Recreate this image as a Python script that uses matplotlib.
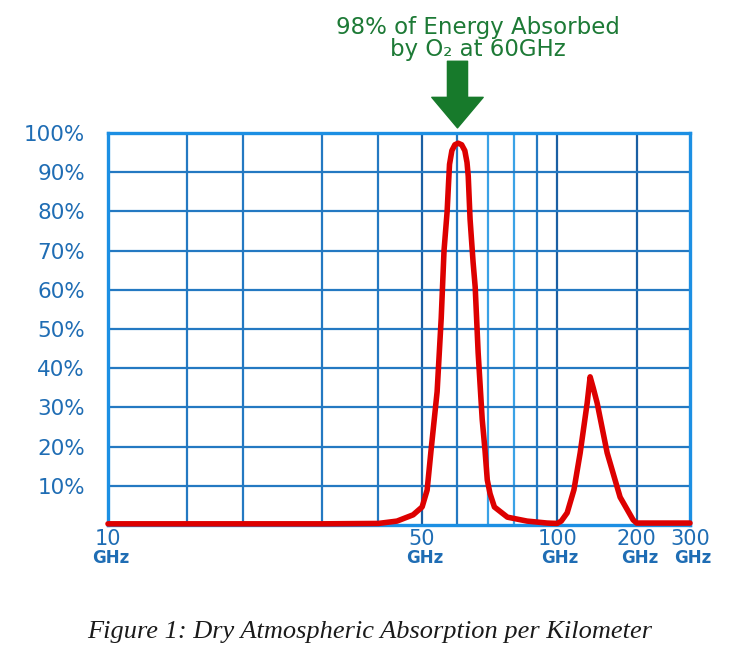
import numpy as np
import matplotlib
matplotlib.use("Agg")
import matplotlib.pyplot as plt
from matplotlib.transforms import offset_copy

# absorption curve (GHz, % absorbed per km)
freq = [10, 20, 30, 40, 44, 47.8, 50.05, 51.35, 52.4, 54.05, 55.2, 56.0,
        56.9, 57.3, 57.6, 58.3, 59.2, 60.2, 61.3, 62.3, 63.0, 63.4, 64.0,
        65.0, 65.7, 66.7, 68.1, 69.1, 69.9, 70.9, 72.5, 77.5, 85.7, 95, 100,
        104, 109.9, 117, 123.8, 131.8, 135.3, 139, 143.9, 156.8, 174.8,
        194.4, 200, 250, 300]
absorb = [0.3, 0.3, 0.3, 0.4, 1.0, 2.6, 4.6, 8.9, 19.1, 34, 52.8, 70,
          80, 87, 92, 95.5, 97, 97.4, 97, 95.5, 92.5, 89, 78,
          67, 60.7, 44, 27, 19, 11.5, 8, 4.6, 2, 1.0, 0.5, 0.4,
          1.0, 3.1, 9, 18.4, 31.1, 37.8, 35, 31.1, 18.4, 7.1,
          1.3, 0.5, 0.5, 0.5]

grid_freq = [15, 20, 30, 40, 50, 60, 70, 80, 90, 100, 200]
grid_pct = [10, 20, 30, 40, 50, 60, 70, 80, 90]
xtick_freq = [10, 50, 100, 200, 300]
xtick_lab = ["10", "50", "100", "200", "300"]
ytick_pct = [10, 20, 30, 40, 50, 60, 70, 80, 90, 100]
ytick_lab = ["10%", "20%", "30%", "40%", "50%", "60%", "70%", "80%", "90%", "100%"]

title1 = "98% of Energy Absorbed"
title2 = "by O\u2082 at 60GHz"
caption = "Figure 1: Dry Atmospheric Absorption per Kilometer"

# the drawn axis is log up to 100 GHz, then squeezed (fourth root) to 300
C = 0.296
R100 = 100 ** 0.25


def fwd(f):
    f = np.clip(f, 1e-3, None)
    return np.where(f <= 100, np.log10(f), 2 + C * (f ** 0.25 - R100))


def inv(u):
    u = np.asarray(u, dtype=float)
    hi = np.clip((u - 2) / C + R100, 0, None) ** 4
    return np.where(u <= 2, 10.0 ** np.minimum(u, 2), hi)


blue_lab = "#1f6db4"
frame_col = "#1c8fe3"
dark_grid = "#1a5fa3"
mid_grid = "#2479c2"
light_grid = "#3aa2e6"
green = "#1d7a36"

plt.rcParams["font.family"] = ["DejaVu Sans"]

fig = plt.figure(figsize=(7.5, 6.66), dpi=100)
ax = fig.add_axes([0.144, 0.2117, 0.776, 0.5886])
ax.set_xscale("function", functions=(fwd, inv))
ax.set_xlim(10, 300)
ax.set_ylim(0, 100)

for f in grid_freq:
    if f in (50, 100, 200):
        c = dark_grid
    elif f in (70, 80):
        c = light_grid
    else:
        c = mid_grid
    ax.axvline(f, color=c, lw=1.6, zorder=1)
for p in grid_pct:
    ax.axhline(p, color=mid_grid, lw=1.6, zorder=1)

for s in ax.spines.values():
    s.set_color(frame_col)
    s.set_linewidth(2.4)

ax.plot(freq, absorb, color="#dd0000", lw=4.0, solid_joinstyle="round",
        solid_capstyle="round", clip_on=False, zorder=4)

ax.set_yticks(ytick_pct)
ax.set_yticklabels(ytick_lab)
ax.set_xticks(xtick_freq)
ax.set_xticklabels(xtick_lab)
ax.xaxis.set_minor_locator(matplotlib.ticker.NullLocator())
ax.tick_params(axis="y", length=0, pad=16.5, labelsize=15.5, labelcolor=blue_lab)
ax.tick_params(axis="x", length=0, pad=3, labelsize=15, labelcolor=blue_lab)

ghz_tr = offset_copy(ax.get_xaxis_transform(), fig=fig, x=3, y=-33, units="dots")
for f in xtick_freq:
    ax.text(f, 0, "GHz", transform=ghz_tr, ha="center", va="center",
            fontsize=12, fontweight="bold", color=blue_lab)

# arrow down onto the 60 GHz peak
ax.annotate("", xy=(60, 101.3), xytext=(60, 118.3), annotation_clip=False,
            arrowprops=dict(arrowstyle="simple,head_length=2.2,head_width=3.7,tail_width=1.45",
                            mutation_scale=10, color="#177a2b", shrinkA=0, shrinkB=0))

fig.text(0.637, 0.958, title1, ha="center", va="center", fontsize=16.5, color=green)
fig.text(0.637, 0.925, title2, ha="center", va="center", fontsize=16.5, color=green)

fig.text(0.493, 0.051, caption, ha="center", va="center", fontsize=19,
         style="italic", family="Liberation Serif", color="#1a1a1a")

fig.savefig("out.png", dpi=100)
